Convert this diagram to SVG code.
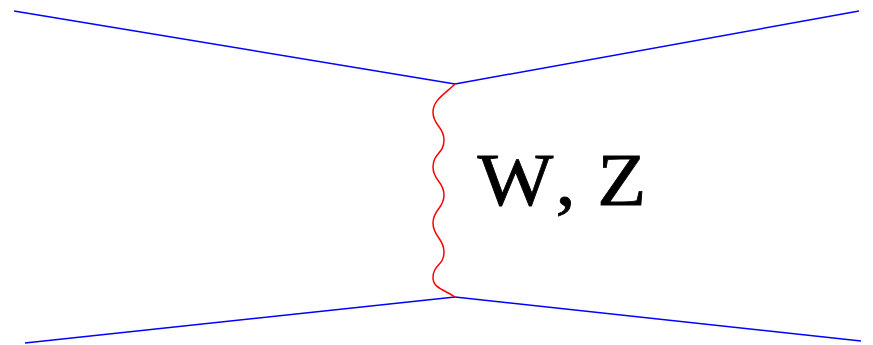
<svg xmlns="http://www.w3.org/2000/svg" width="873" height="345" viewBox="0 0 873 345">
<style>
.fermion{fill:none;stroke:#0000ff;stroke-width:1.5}
.boson{fill:none;stroke:#ff0000;stroke-width:1.5}
.label{font-family:"Liberation Serif","Times New Roman",serif;font-size:73px;fill:#000;stroke:#000;stroke-width:0.8}
</style>
<rect width="873" height="345" fill="#fff"/>
<g id="connectors">
<line class="fermion" x1="14" y1="11" x2="455" y2="84"/>
<line class="fermion" x1="455" y1="84" x2="859" y2="11"/>
<line class="fermion" x1="25" y1="343" x2="455" y2="297"/>
<line class="fermion" x1="455" y1="297" x2="861" y2="341"/>
<path class="boson" d="M455,84 C445,94 433,100 433,112 C433,126 444,126 444,140 C444,154 433,153 433,167 C433,181 444,181 444,195 C444,209 433,209 433,223 C433,237 444,238 444,252 C444,266 433,264 433,278 C433,288 445,290 455,297"/>
</g>
<g id="label-wz">
<text class="label" transform="scale(1.1,1)" y="205"><tspan x="434">W</tspan><tspan x="505">,</tspan><tspan x="543">Z</tspan></text>
</g>
</svg>
